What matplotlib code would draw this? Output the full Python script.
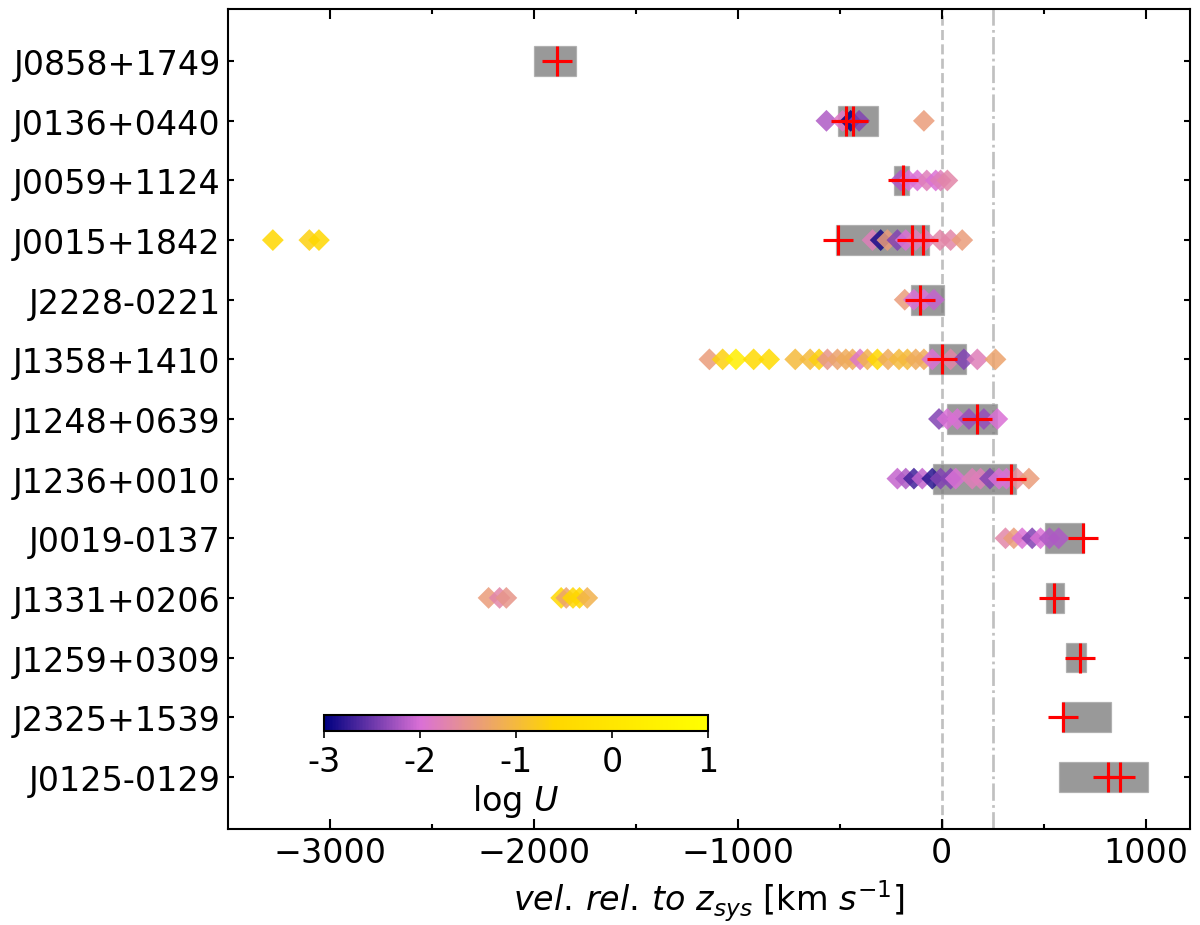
import numpy as np
import matplotlib
matplotlib.use("Agg")
import matplotlib.pyplot as plt
from matplotlib.colors import LinearSegmentedColormap, Normalize

# objects, top to bottom
names = ["J0858+1749", "J0136+0440", "J0059+1124", "J0015+1842", "J2228-0221",
         "J1358+1410", "J1248+0639", "J1236+0010", "J0019-0137", "J1331+0206",
         "J1259+0309", "J2325+1539", "J0125-0129"]

# grey velocity ranges [km/s]
box_lo = [-1998, -507, -235, -518, -148, -62, 28, -41, 506, 514, 612, 588, 574]
box_hi = [-1792, -314, -158, -60, 11, 118, 273, 367, 697, 602, 707, 829, 1010]

# red crosses
cross_vel = [[-1885], [-467, -434], [-190], [-506, -147, -90], [-108], [0], [175],
             [338], [692], [550], [677], [596], [816, 873]]

# diamonds: velocity and log U per object
vel_J0136 = [-565, -486, -446, -405, -87]
logu_J0136 = [-2.2, -1.9, -3.0, -2.4, -1.4]
vel_J0059 = [-201, -162, -119, -73, -29, -5, 28]
logu_J0059 = [-2.2, -2.0, -2.0, -1.8, -2.0, -1.8, -1.7]
vel_J0015 = [-3280, -3101, -3054, -339, -299, -266, -217, -176, -127, -78, -8, 44, 101]
logu_J0015 = [-0.55, -0.7, -0.55, -1.8, -2.9, -1.4, -2.4, -2.0, -1.8, -1.8, -1.7, -1.7, -1.4]
vel_J2228 = [-181, -136, -87, -38]
logu_J2228 = [-1.4, -2.0, -2.0, -2.1]
vel_J1358 = [-1139, -1074, -1009, -922, -846, -718, -645, -601, -560, -511, -470,
             -437, -400, -364, -315, -263, -209, -168, -127, -87, -46, 44, 109, 175, 264]
logu_J1358 = [-1.4, -0.7, 0.3, -0.5, -0.45, -1.0, -1.0, -0.7, -1.5, -1.3, -1.2,
              -1.2, -1.9, -1.1, -0.6, -1.2, -1.0, -1.0, -1.2, -1.2, -2.0, -1.7, -2.4, -1.8, -1.3]
vel_J1248 = [-13, 28, 77, 134, 207, 273]
logu_J1248 = [-2.4, -2.0, -2.0, -2.3, -2.3, -2.0]
vel_J1236 = [-217, -176, -136, -95, -46, -5, 44, 69, 150, 191, 237, 281, 318, 371, 428]
logu_J1236 = [-2.1, -2.2, -2.7, -2.1, -2.8, -2.4, -2.4, -2.0, -1.8, -1.8, -2.4, -2.0,
              -2.0, -1.6, -1.4]
vel_J0019 = [313, 354, 395, 444, 485, 529, 574]
logu_J0019 = [-1.7, -1.4, -2.0, -2.4, -2.0, -2.2, -2.2]
vel_J1331 = [-2222, -2168, -2135, -1866, -1841, -1808, -1776, -1738]
logu_J1331 = [-1.4, -1.7, -1.5, -0.6, -1.3, -0.6, -0.6, -1.1]

diamonds = {
    "J0136+0440": (vel_J0136, logu_J0136),
    "J0059+1124": (vel_J0059, logu_J0059),
    "J0015+1842": (vel_J0015, logu_J0015),
    "J2228-0221": (vel_J2228, logu_J2228),
    "J1358+1410": (vel_J1358, logu_J1358),
    "J1248+0639": (vel_J1248, logu_J1248),
    "J1236+0010": (vel_J1236, logu_J1236),
    "J0019-0137": (vel_J0019, logu_J0019),
    "J1331+0206": (vel_J1331, logu_J1331),
}

cmap = LinearSegmentedColormap.from_list(
    "logU", [(0.0, "navy"), (0.25, "orchid"), (0.6, "gold"), (1.0, "yellow")])
norm = Normalize(vmin=-3, vmax=1)

plt.rcParams["font.size"] = 16

fig = plt.figure(figsize=(8, 6.1733), dpi=150)
ax = fig.add_axes([0.19, 0.1037, 0.802, 0.8855])

ypos = np.arange(len(names))[::-1]

# velocity ranges
lo = np.array(box_lo)
hi = np.array(box_hi)
ax.barh(ypos, hi - lo, left=lo, height=0.5, color="gray", alpha=0.8,
        edgecolor="darkgray", linewidth=0.6, zorder=1)

# log U components
for i, nm in enumerate(names):
    if nm not in diamonds:
        continue
    v, u = diamonds[nm]
    ax.scatter(v, np.full(len(v), ypos[i]), c=u, cmap=cmap, norm=norm,
               marker="D", s=55, alpha=0.85, linewidths=0, zorder=2)

# red crosses
for i, cv in enumerate(cross_vel):
    ax.plot(cv, np.full(len(cv), ypos[i]), ls="none", marker="+", ms=14,
            mew=1.5, color="red", zorder=3)

ax.axvline(0, color="silver", ls="--", lw=1.3, zorder=0)
ax.axvline(250, color="silver", ls="-.", lw=1.3, zorder=0)

ax.set_xlim(-3500, 1220)
ax.set_ylim(-0.875, 12.875)
ax.set_yticks(ypos)
ax.set_yticklabels(names)
ax.set_xticks([-3000, -2000, -1000, 0, 1000])
ax.set_xticks(np.arange(-3000, 1001, 500), minor=True)
ax.tick_params(which="both", direction="in", top=True, right=True, width=1)
ax.tick_params(axis="x", which="major", length=5)
ax.tick_params(axis="x", which="minor", length=2.5)
ax.tick_params(axis="y", which="major", length=3)
for sp in ax.spines.values():
    sp.set_linewidth(1)
ax.set_xlabel(r"$vel.\,rel.\,to\ z_{sys}$ [km $s^{-1}$]")

# colorbar inset
cax = fig.add_axes([0.27, 0.2098, 0.32, 0.0173])
sm = plt.cm.ScalarMappable(norm=norm, cmap=cmap)
cb = fig.colorbar(sm, cax=cax, orientation="horizontal")
cb.set_ticks([-3, -2, -1, 0, 1])
cb.set_ticklabels(["-3", "-2", "-1", "0", "1"])
cb.set_label(r"log $U$", labelpad=2)
cb.outline.set_linewidth(1)

fig.savefig("out.png", dpi=150)
